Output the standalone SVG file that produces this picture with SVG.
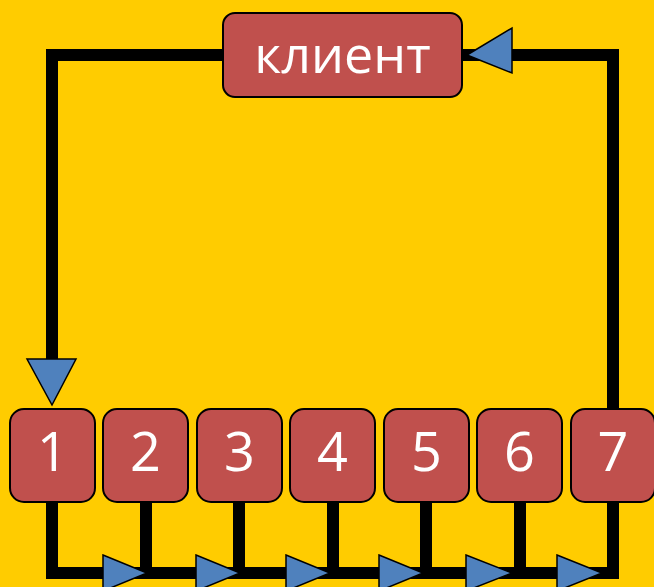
<svg xmlns="http://www.w3.org/2000/svg" width="654" height="587" viewBox="0 0 654 587">
<style>
.box{fill:#C0504D;stroke:#000;stroke-width:2}
.lbl{fill:#fff;font-family:"Open Sans","Liberation Sans",sans-serif;text-anchor:middle}
.ln{fill:none;stroke:#000;stroke-width:12;stroke-linejoin:miter;stroke-linecap:butt}
.arr{fill:#4F81BD;stroke:#000;stroke-width:1.5;stroke-linejoin:miter}
</style>
<rect width="654" height="587" fill="#FFCC00"/>
<g id="connectors">
<polyline class="ln" points="223,55 52,55 52,365"/>
<polyline class="ln" points="458,55 613,55 613,412"/>
<polyline class="ln" points="52,500 52,573 613,573 613,500"/>
<line class="ln" x1="146" y1="500" x2="146" y2="573"/>
<line class="ln" x1="239" y1="500" x2="239" y2="573"/>
<line class="ln" x1="333" y1="500" x2="333" y2="573"/>
<line class="ln" x1="426" y1="500" x2="426" y2="573"/>
<line class="ln" x1="520" y1="500" x2="520" y2="573"/>
<polygon class="arr" points="467,55 512,28 512,73"/>
<polygon class="arr" points="27,359 76,359 52,405"/>
<polygon class="arr" points="103,555 147,573 103,591"/>
<polygon class="arr" points="196,555 240,573 196,591"/>
<polygon class="arr" points="286,555 330,573 286,591"/>
<polygon class="arr" points="379,555 423,573 379,591"/>
<polygon class="arr" points="466,555 512,573 466,591"/>
<polygon class="arr" points="557,555 602,573 557,591"/>
</g>
<g id="client"><rect class="box" x="223" y="13" width="239" height="84" rx="12"/><text class="lbl" x="342.5" y="73" font-size="52">клиент</text></g>
<g id="n1"><rect class="box" x="10" y="409" width="85" height="93" rx="14"/><text class="lbl" x="52.5" y="471" font-size="54">1</text></g>
<g id="n2"><rect class="box" x="103" y="409" width="85" height="93" rx="14"/><text class="lbl" x="145.5" y="471" font-size="54">2</text></g>
<g id="n3"><rect class="box" x="197" y="409" width="85" height="93" rx="14"/><text class="lbl" x="239.5" y="471" font-size="54">3</text></g>
<g id="n4"><rect class="box" x="290" y="409" width="85" height="93" rx="14"/><text class="lbl" x="332.5" y="471" font-size="54">4</text></g>
<g id="n5"><rect class="box" x="384" y="409" width="85" height="93" rx="14"/><text class="lbl" x="426.5" y="471" font-size="54">5</text></g>
<g id="n6"><rect class="box" x="477" y="409" width="85" height="93" rx="14"/><text class="lbl" x="519.5" y="471" font-size="54">6</text></g>
<g id="n7"><rect class="box" x="571" y="409" width="84" height="93" rx="14"/><text class="lbl" x="613" y="471" font-size="54">7</text></g>
</svg>
